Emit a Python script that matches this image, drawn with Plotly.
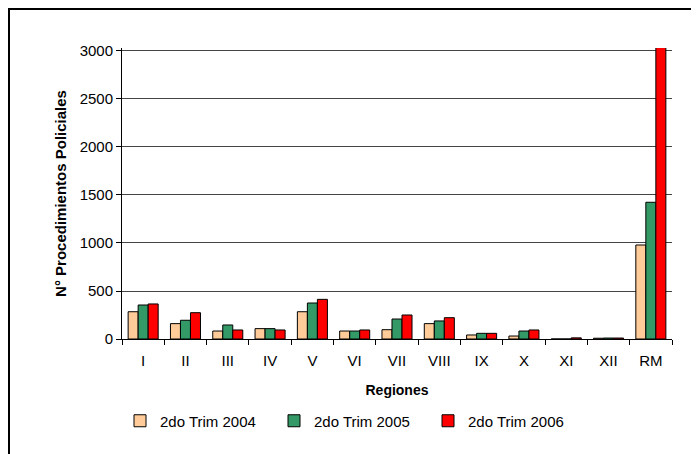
import plotly.graph_objects as go

regiones = ["I", "II", "III", "IV", "V", "VI", "VII", "VIII", "IX", "X", "XI", "XII", "RM"]
trim_2004 = [284, 160, 83, 108, 284, 83, 97, 160, 42, 31, 0, 8, 979]
trim_2005 = [354, 195, 146, 108, 375, 83, 208, 188, 59, 83, 0, 10, 1424]
trim_2006 = [365, 274, 94, 94, 413, 94, 250, 222, 59, 94, 12, 10, 3100]
series_names = ["2do Trim 2004", "2do Trim 2005", "2do Trim 2006"]
colors = ["#FFCC99", "#339966", "#FF0000"]
y_ticks = [0, 500, 1000, 1500, 2000, 2500, 3000]

FONT = "Liberation Sans, Arial, sans-serif"

fig = go.Figure()
for name, vals, col in zip(series_names, [trim_2004, trim_2005, trim_2006], colors):
    fig.add_trace(go.Bar(
        x=regiones, y=vals, name=name,
        marker=dict(color=col, line=dict(color="black", width=1)),
    ))

# page has an 8px body margin, so the figure is sized to fit the window
W, H = 691, 446
L, R, T, B = 114, 27, 40, 115
pw = W - L - R
ph = H - T - B

fig.update_layout(
    width=W, height=H,
    margin=dict(l=L, r=R, t=T, b=B),
    paper_bgcolor="white", plot_bgcolor="white",
    barmode="group", bargap=0.29, bargroupgap=0,
    font=dict(family=FONT, size=15, color="black"),
    showlegend=True,
    legend=dict(
        orientation="h", x=-2 / pw, xanchor="left",
        y=-82 / ph, yanchor="middle",
        entrywidth=109, entrywidthmode="pixels",
        itemwidth=30, font=dict(size=15, family=FONT),
        bgcolor="rgba(0,0,0,0)",
    ),
    xaxis=dict(
        type="category", showline=True, linecolor="black", linewidth=1,
        ticks="outside", tickson="boundaries", ticklen=5, tickcolor="black",
        showgrid=False, tickfont=dict(size=15), ticklabelstandoff=8,
        title=dict(text="<b>Regiones</b>", font=dict(size=14), standoff=17),
    ),
    yaxis=dict(
        range=[0, 3031], tickvals=y_ticks, showline=True, linecolor="black",
        linewidth=1, ticks="outside", ticklen=5, tickcolor="black",
        showgrid=True, gridcolor="#444444", gridwidth=1, zeroline=False,
        tickfont=dict(size=15),
        title=dict(text="<b>N° Procedimientos Policiales</b>", font=dict(size=15), standoff=9),
    ),
    shapes=[dict(
        type="rect", xref="paper", yref="paper",
        x0=-(L - 1) / pw, x1=1.3, y0=-0.8, y1=1 + (T - 1) / ph,
        line=dict(color="black", width=2), fillcolor="rgba(0,0,0,0)",
    )],
)

fig.write_html("out.html")
